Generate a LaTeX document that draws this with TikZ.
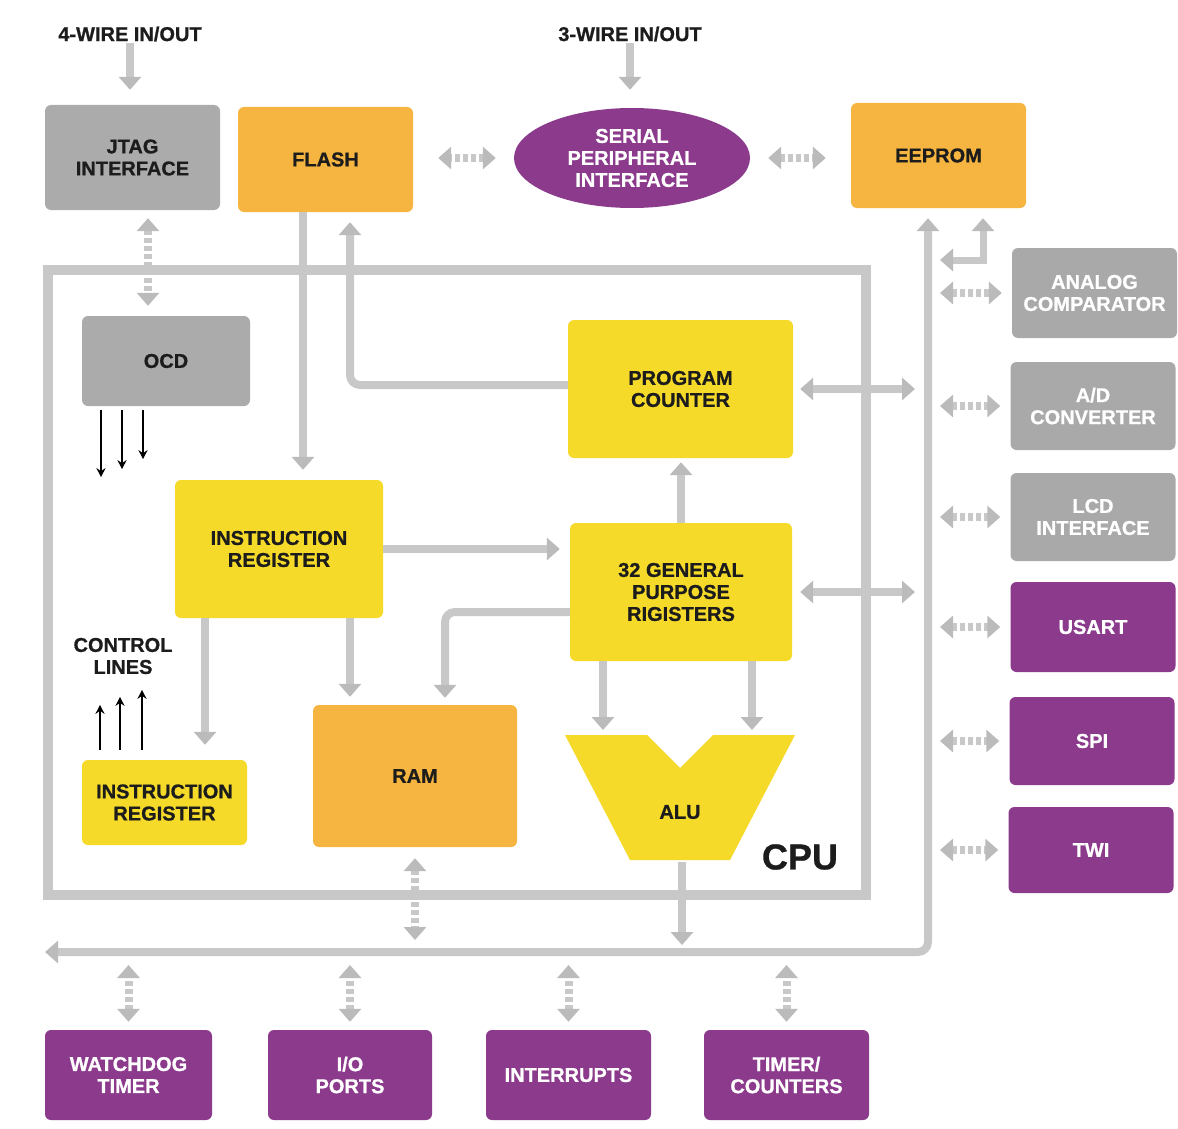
\documentclass[tikz,border=0pt]{standalone}
\usepackage{fontspec}
\setmainfont{Liberation Sans}[BoldFeatures={FakeBold=0.8}]
\usetikzlibrary{arrows.meta,shapes.geometric,calc}
\definecolor{cgray}{HTML}{ABABAB}
\definecolor{rgray}{HTML}{A9A9A9}
\definecolor{corange}{HTML}{F5B540}
\definecolor{cyellow}{HTML}{F5DA2A}
\definecolor{cpurple}{HTML}{8B3A8C}
\definecolor{conn}{HTML}{C8C8C8}
\definecolor{tipc}{HTML}{BBBBBB}
\definecolor{ctext}{HTML}{1C1C1C}
\newcommand\labfont{\fontsize{20}{22}\selectfont\bfseries}
\tikzset{gtip/.tip={Triangle[width=22pt,length=13pt,color=tipc]}}
\begin{document}
\begin{tikzpicture}[x=1pt,y=-1pt,
  box/.style={rectangle, rounded corners=6pt, align=center, font=\labfont, inner sep=0pt, text=ctext},
  graybox/.style={box, fill=cgray},
  rbox/.style={box, fill=rgray, text=white, minimum width=165pt, minimum height=88pt},
  obox/.style={box, fill=corange},
  ybox/.style={box, fill=cyellow},
  pbox/.style={box, fill=cpurple, text=white},
  bbox/.style={pbox, minimum width=165pt, minimum height=90pt},
  plain/.style={align=center, font=\labfont, text=ctext, inner sep=1pt},
  cl/.style={draw=conn, line width=8pt},
  dpat/.style={dash pattern=on 5pt off 3pt},
  blk/.style={draw=black, line width=2.4pt, -{Stealth[length=9pt,width=9pt]}}
]
\useasboundingbox (0,0) rectangle (1178,1129);
% CPU frame
\node[draw=conn, line width=10pt, minimum width=818pt, minimum height=625pt, inner sep=0pt] (cpu) at (457,582.5) {};
\node[font=\fontsize{36}{36}\selectfont\bfseries, text=ctext, inner sep=0pt] (cpul) at (800,857) {CPU};

% labels
\node[plain] (w4) at (130,34) {4-WIRE IN/OUT};
\node[plain] (w3) at (630,34) {3-WIRE IN/OUT};
\node[plain] (ctl) at (123,656) {CONTROL\\LINES};

% top row
\node[graybox, minimum width=175pt, minimum height=105pt] (jtag) at (132.5,157.5) {JTAG\\INTERFACE};
\node[obox, minimum width=175pt, minimum height=105pt] (flash) at (325.5,159.5) {FLASH};
\node[ellipse, fill=cpurple, text=white, font=\labfont, align=center, minimum width=236pt, minimum height=100pt, inner sep=0pt] (spi) at (632,158) {SERIAL\\PERIPHERAL\\INTERFACE};
\node[obox, minimum width=175pt, minimum height=105pt] (eeprom) at (938.5,155.5) {EEPROM};

% CPU contents
\node[graybox, minimum width=168pt, minimum height=90pt] (ocd) at (166,361) {OCD};
\node[ybox, minimum width=225pt, minimum height=138pt] (pc) at (680.5,389) {PROGRAM\\COUNTER};
\node[ybox, minimum width=222pt, minimum height=138pt] (gpr) at (681,592) {32 GENERAL\\PURPOSE\\RIGISTERS};
\node[ybox, minimum width=208pt, minimum height=138pt] (ir) at (279,549) {INSTRUCTION\\REGISTER};
\node[ybox, minimum width=165pt, minimum height=85pt] (ir2) at (164.5,802.5) {INSTRUCTION\\REGISTER};
\node[obox, minimum width=204pt, minimum height=142pt] (ram) at (415,776) {RAM};
\fill[cyellow] (565,735) -- (647,735) -- (680,768) -- (713,735) -- (795,735) -- (730,860) -- (630,860) -- cycle;
\node[plain] (alu) at (680,812) {ALU};
\coordinate (aluL) at (603,735);
\coordinate (aluR) at (752,735);
\coordinate (aluB) at (682,862);

% right column
\node[rbox, minimum height=90pt] (ac) at (1094.5,293) {ANALOG\\COMPARATOR};
\node[rbox] (adc) at (1093,406) {A/D\\CONVERTER};
\node[rbox] (lcd) at (1093,517) {LCD\\INTERFACE};
\node[pbox, minimum width=165pt, minimum height=90pt] (usart) at (1093,627) {USART};
\node[pbox, minimum width=165pt, minimum height=88pt] (spii) at (1092,741) {SPI};
\node[pbox, minimum width=165pt, minimum height=86pt] (twi) at (1091,850) {TWI};

% bottom row
\node[bbox, minimum width=167pt] (wdt) at (128.5,1075) {WATCHDOG\\TIMER};
\node[bbox, minimum width=164pt] (io) at (350,1075) {I/O\\PORTS};
\node[bbox] (irq) at (568.5,1075) {INTERRUPTS};
\node[bbox] (tmr) at (786.5,1075) {TIMER/\\COUNTERS};

% ---- connectors ----
\draw[cl, -gtip] (w4.south) -- ([yshift=15pt]jtag.north -| w4.south);
\draw[cl, -gtip] (w3.south) -- ([yshift=18pt]spi.north -| w3.south);
\draw[cl, dpat, gtip-gtip] ([xshift=-18pt]spi.west) -- ([xshift=25pt]flash.east |- spi.west);
\draw[cl, dpat, gtip-gtip] ([xshift=18pt]spi.east) -- ([xshift=-25pt]eeprom.west |- spi.east);

\coordinate (jx) at (148,0);
\draw[cl, dpat, gtip-gtip] ([yshift=-8pt]jtag.south -| jx) -- ([yshift=10pt]ocd.north -| jx);

% bus
\coordinate (bR) at (928,952);
\coordinate (bL) at (45,952);
\draw[cl, gtip-gtip, rounded corners=10pt] ([yshift=-10pt]eeprom.south -| bR) -- (bR) -- (bL);
\coordinate (elb) at (983,260);
\coordinate (elbL) at (940,260);
\draw[cl, line width=7pt, gtip-gtip] ([yshift=-10pt]eeprom.south -| elb) -- (elb) -- (elbL);

\coordinate (rx) at (940,0);
\foreach \n in {ac,adc,lcd,usart,spii,twi}
  \draw[cl, dpat, gtip-gtip] (\n.west -| rx) -- ([xshift=-10pt]\n.west);

\coordinate (bx2) at (915,0);
\draw[cl, gtip-gtip] ([xshift=7pt]pc.east) -- (pc.east -| bx2);
\draw[cl, gtip-gtip] ([xshift=8pt]gpr.east) -- (gpr.east -| bx2);

\coordinate (fx) at (303,0);
\draw[cl, -gtip] (flash.south -| fx) -- ([yshift=10pt]ir.north -| fx);
\coordinate (fx2) at (350,0);
\draw[cl, -gtip, rounded corners=10pt] ([yshift=4pt]pc.west) -| ([yshift=-10pt]flash.south -| fx2);
\draw[cl, -gtip] (gpr.north) -- ([yshift=-4pt]pc.south -| gpr.north);
\draw[cl, -gtip] (ir.east) -- ([xshift=-10pt]gpr.west |- ir.east);
\coordinate (rx2) at (445,0);
\draw[cl, -gtip, rounded corners=10pt] ([yshift=-20pt]gpr.west) -| ([yshift=7pt]ram.north -| rx2);
\coordinate (rx3) at (350,0);
\draw[cl, -gtip] (ir.south -| rx3) -- ([yshift=8pt]ram.north -| rx3);
\coordinate (ix) at (205,0);
\draw[cl, -gtip] (ir.south -| ix) -- ([yshift=15pt]ir2.north -| ix);
\draw[cl, -gtip] (gpr.south -| aluL) -- ([yshift=5pt]aluL);
\draw[cl, -gtip] (gpr.south -| aluR) -- ([yshift=5pt]aluR);
\draw[cl, -gtip] (aluB) -- ([yshift=7pt]bR -| aluB);
\draw[cl, dpat, gtip-gtip] ([yshift=-11pt]ram.south) -- ([yshift=12pt]bR -| ram.south);
\foreach \n in {wdt,io,irq,tmr}
  \draw[cl, dpat, gtip-gtip] ([yshift=8pt]\n.north) -- ([yshift=-13pt]bR -| \n.north);

% black signal lines
\foreach \dx/\len in {-65/67,-44/59,-23/49}
  \draw[blk] ($(ocd.south)+(\dx,4)$) -- ++(0,\len);
\foreach \dx/\len in {-64.5/45,-44.5/53,-22.5/60}
  \draw[blk] ($(ir2.north)+(\dx,-10)$) -- ++(0,-\len);
\end{tikzpicture}
\end{document}
